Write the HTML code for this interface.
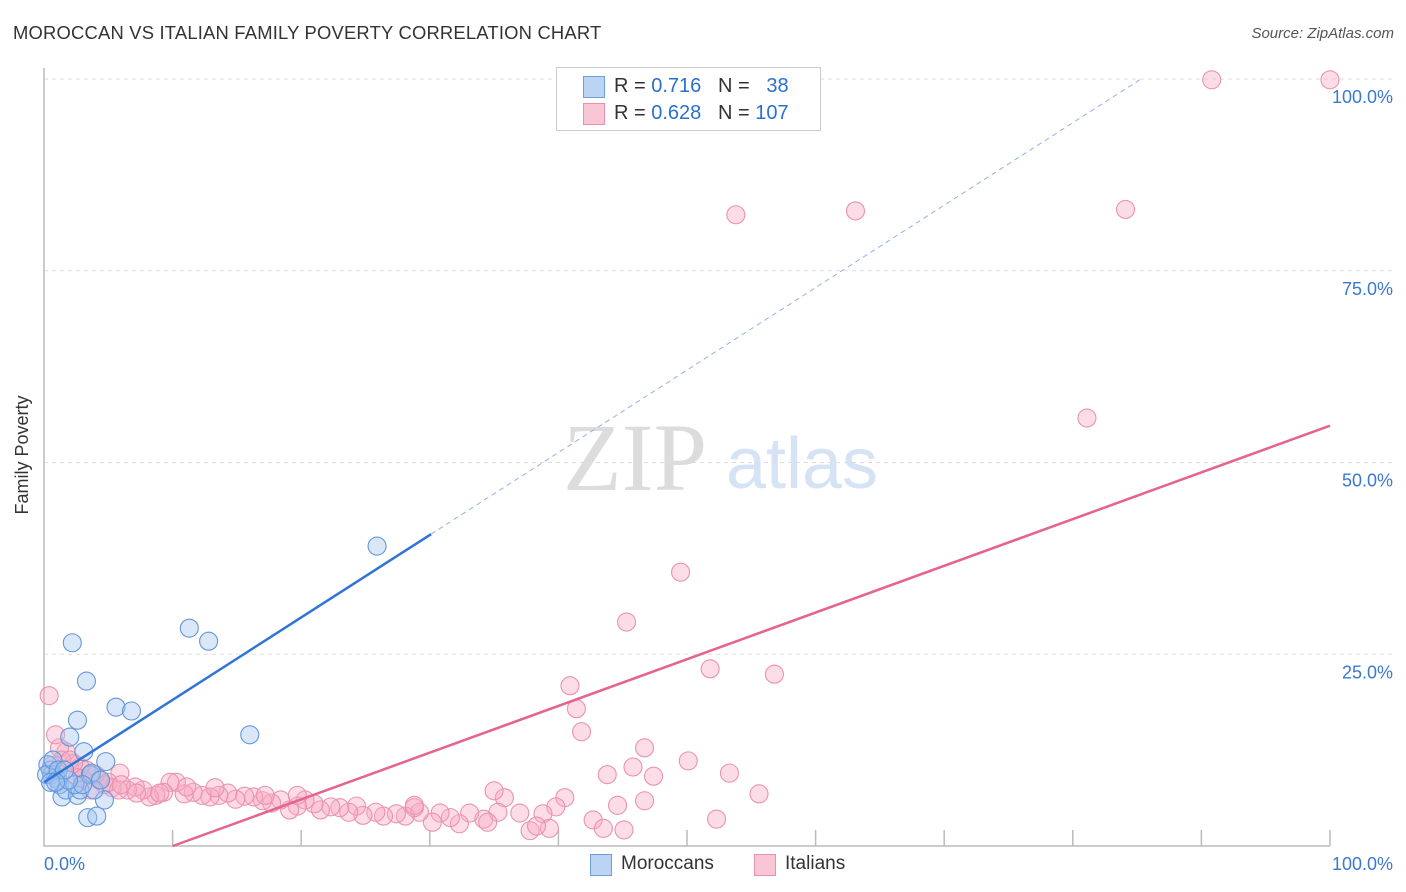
<!DOCTYPE html>
<html><head><meta charset="utf-8"><style>
body{margin:0;background:#fff;font-family:"Liberation Sans",sans-serif;}
#wrap{position:relative;width:1406px;height:892px;overflow:hidden}
.t{position:absolute;white-space:nowrap}
</style></head><body>
<div id="wrap">
<div class="t" style="left:13px;top:22px;font-size:18.4px;color:#333;letter-spacing:0.2px">MOROCCAN VS ITALIAN FAMILY POVERTY CORRELATION CHART</div>
<div class="t" style="right:12px;top:25px;font-size:15px;color:#555;font-style:italic">Source: ZipAtlas.com</div>
<svg id="svg" width="1406" height="892" style="position:absolute;left:0;top:0">
<text x="635" y="490" font-family="Liberation Serif,serif" font-size="96" fill="#dcdcdc" text-anchor="middle">ZIP</text>
<text x="802" y="488" font-family="Liberation Sans,sans-serif" font-size="72" fill="#d5e3f5" text-anchor="middle">atlas</text>
<g id="grid"></g><g id="pts"></g><g id="lines"></g>
<text x="28" y="455" transform="rotate(-90 28 455)" font-size="18" fill="#333" text-anchor="middle">Family Poverty</text>
</svg>
<div style="position:absolute;left:556px;top:67px;width:263px;height:62px;border:1px solid #ccc;background:#fff">
 <div style="position:absolute;left:26px;top:8px;width:20px;height:20px;background:#bcd4f4;border:1px solid #6f9ede"></div>
 <div class="t" style="left:57px;top:7px;font-size:20px;color:#333">R = <span style="color:#2b6fcf">0.716</span>&nbsp;&nbsp;&nbsp;N = &nbsp;&nbsp;<span style="color:#2b6fcf">38</span></div>
 <div style="position:absolute;left:26px;top:35px;width:20px;height:20px;background:#f9c6d5;border:1px solid #eb8fae"></div>
 <div class="t" style="left:57px;top:34px;font-size:20px;color:#333">R = <span style="color:#2b6fcf">0.628</span>&nbsp;&nbsp;&nbsp;N = <span style="color:#2b6fcf">107</span></div>
</div>
<div>
 <div style="position:absolute;left:590px;top:854px;width:20px;height:20px;background:#bcd4f4;border:1px solid #6f9ede"></div>
 <div class="t" style="left:621px;top:853px;font-size:19px;color:#333">Moroccans</div>
 <div style="position:absolute;left:754px;top:854px;width:20px;height:20px;background:#f9c6d5;border:1px solid #eb8fae"></div>
 <div class="t" style="left:785px;top:853px;font-size:19px;color:#333">Italians</div>
</div>
</div>
<script>
const yTicks=[25,50,75,100];
const yTickLabels=["25.0%","50.0%","75.0%","100.0%"];
const xTicks=[10,20,30,40,50,60,70,80,90,100];
const blueX=[0.5,0.6,0.9,0.3,1.1,1.4,2.0,2.2,2.6,3.1,3.3,3.4,3.6,3.7,4.1,4.7,4.8,5.6,6.8,11.3,12.8,16.0,25.9,1.2,1.7,2.6,2.8,3.9,0.2,0.7,2.4,3.0,1.9,1.1,1.6,4.4,0.5,0.9];
const blueY=[9.9,9.3,8.9,10.6,8.6,6.4,14.2,26.5,16.4,12.3,21.5,3.7,9.3,9.5,3.9,6.0,11.0,18.1,17.6,28.4,26.7,14.5,39.1,8.0,7.3,6.6,7.3,7.3,9.3,11.2,8.0,8.0,8.6,9.9,9.9,8.6,8.3,8.3];
const pinkX=[90.8,100,53.8,63.1,84.1,81.1,49.5,45.3,51.8,56.8,40.9,41.4,41.8,46.7,50.1,45.8,43.8,47.4,53.3,55.6,46.7,44.6,42.7,43.5,45.1,52.3,40.5,39.8,38.8,39.3,37.8,38.3,37.0,35.8,35.0,35.3,34.2,33.1,32.3,31.6,30.8,30.2,29.2,28.8,28.1,27.4,26.4,25.8,24.8,24.3,23.7,23.0,22.3,21.5,21.0,20.3,19.7,19.1,18.4,17.7,17.0,16.3,15.6,14.9,14.3,13.6,12.9,12.3,11.6,10.9,10.3,9.8,9.3,8.7,8.2,7.7,7.1,6.5,5.9,5.3,4.7,4.0,3.3,2.8,2.3,1.7,1.2,0.9,0.4,1.4,2.0,2.6,3.6,4.3,5.0,5.8,7.2,9.0,11.1,13.3,17.2,19.7,28.8,34.5,0.6,3.0,6.0];
const pinkY=[99.9,99.9,82.3,82.8,83.0,55.8,35.7,29.2,23.1,22.4,20.9,17.9,14.9,12.8,11.1,10.3,9.3,9.1,9.5,6.8,5.9,5.3,3.4,2.3,2.1,3.5,6.3,5.1,4.2,2.3,2.0,2.6,4.3,6.3,7.2,4.4,3.5,4.3,2.9,3.7,4.3,3.1,4.4,5.0,3.9,4.2,3.9,4.4,4.0,5.2,4.4,5.0,5.1,4.7,5.5,6.0,5.2,4.7,6.0,5.6,5.9,6.4,6.5,6.1,6.9,6.6,6.4,6.6,7.0,6.8,8.3,8.3,7.0,6.6,6.4,7.3,7.7,7.3,9.5,7.6,8.0,9.3,9.9,10.3,10.8,12.3,12.8,14.5,19.6,11.2,11.2,8.9,7.3,8.6,8.3,7.3,6.9,6.9,7.7,7.6,6.6,6.6,5.3,3.1,10.5,8.8,8.0];
const blueFit=[8.3,1.075];   // intercept, slope
const pinkFit=[-6.1,0.609];
const X0=44,X1=1330,Y0=846,Y1=79;
const sx=v=>X0+(X1-X0)*v/100, sy=v=>Y0-(Y0-Y1)*v/100;
const NS="http://www.w3.org/2000/svg";
function mk(t,a,p){const e=document.createElementNS(NS,t);for(const k in a)e.setAttribute(k,a[k]);p.appendChild(e);return e;}
const grid=document.getElementById('grid');
yTicks.forEach((v,i)=>{
 const l=mk('line',{x1:X0,x2:1395,y1:sy(v),y2:sy(v),stroke:'#ddd','stroke-dasharray':'4,4'},grid);
 
 
 const t=mk('text',{x:1393,y:sy(v)+24,'text-anchor':'end','font-size':18,fill:'#3b78d0'},grid);
 t.textContent=yTickLabels[i];
 
 
});
const ax=mk('path',{d:`M${X0} 68V${Y0}H${X1}`,stroke:'#bbb',fill:'none','stroke-width':1.5},grid);


xTicks.forEach(v=>{
 const l=mk('line',{x1:sx(v),x2:sx(v),y1:Y0,y2:Y0-16,stroke:'#bbb','stroke-width':1.5},grid);
 
 
});
[[0,'0.0%','start',44],[100,'100.0%','end',1393]].forEach(a=>{
 const t=mk('text',{x:a[3],y:870,'text-anchor':a[2],'font-size':18,fill:'#3b78d0'},grid);
 t.textContent=a[1];
 
 
});
const pts=document.getElementById('pts');
pinkX.forEach((x,i)=>{
 const c=mk('circle',{cx:sx(x),cy:sy(pinkY[i]),r:9,fill:'rgba(247,170,194,0.4)',stroke:'#ea92b0','stroke-width':1.1},pts);
 
 
});
blueX.forEach((x,i)=>{
 const c=mk('circle',{cx:sx(x),cy:sy(blueY[i]),r:9,fill:'rgba(160,195,240,0.4)',stroke:'#6496dc','stroke-width':1.1},pts);
 
 
});
const lines=document.getElementById('lines');
const fb=x=>blueFit[0]+blueFit[1]*x, fp=x=>pinkFit[0]+pinkFit[1]*x;
let l=mk('line',{x1:sx(0),y1:sy(fb(0)),x2:sx(30.1),y2:sy(fb(30.1)),stroke:'#2f74d6','stroke-width':2.5},lines);


const xe=(100-blueFit[0])/blueFit[1];
l=mk('line',{x1:sx(30.1),y1:sy(fb(30.1)),x2:sx(xe),y2:sy(100),stroke:'#8fb2e6','stroke-width':1,'stroke-dasharray':'5,4'},lines);


const xs=-pinkFit[0]/pinkFit[1];
l=mk('line',{x1:sx(xs),y1:sy(0),x2:sx(100),y2:sy(fp(100)),stroke:'#e5648f','stroke-width':2.5},lines);


</script>
</body></html>
